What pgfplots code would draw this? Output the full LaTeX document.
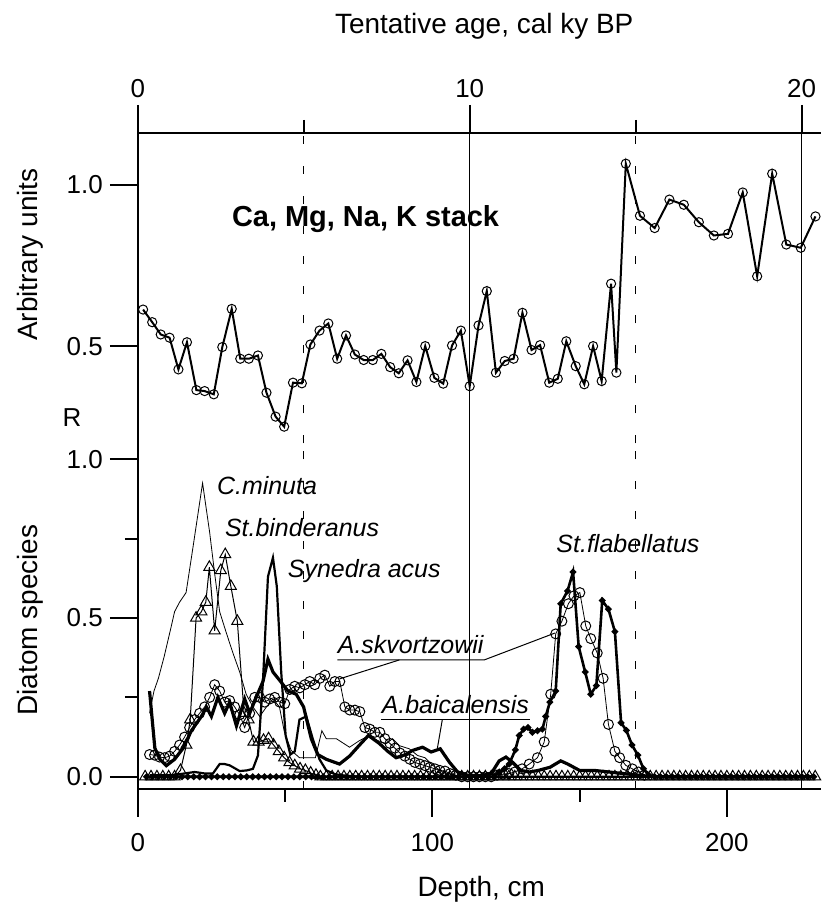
\documentclass[border=0pt]{standalone}
\usepackage{fontspec}
\setmainfont{Liberation Sans}
\usepackage{pgfplots}
\pgfplotsset{compat=1.18}
\begin{document}
\begin{tikzpicture}
\begin{scope}[x=0.5pt,y=-0.5pt]
\useasboundingbox (0,0) rectangle (822,909);
\coordinate (uSW) at (138,444);
\coordinate (lSW) at (138,790);
\end{scope}
\pgfplotsset{
  myaxis/.style={
    scale only axis, width=342pt,
    xmin=0, xmax=231.86, clip=false,
    tick align=outside,
    major tick length=14pt, minor tick length=6.5pt,
    axis line style={-, line width=0.8pt},
    major tick style={black, line width=1pt},
    minor tick style={black, line width=1pt},
    tick label style={font=\fontsize{13}{15}\selectfont},
    xticklabel style={/pgf/number format/assume math mode=true},
    yticklabel style={/pgf/number format/.cd, fixed, fixed zerofill, precision=1, assume math mode=true},
  },
  vsolid/.style={black, line width=0.5pt, forget plot},
  vdash/.style={black, line width=0.5pt, dash pattern=on 4pt off 11pt, forget plot},
  xtk/.style={black, line width=1pt, forget plot},
}
% ---------------- upper panel ----------------
\begin{axis}[myaxis, at={(uSW)}, anchor=south west, height=155.5pt,
  ymin=0.2006, ymax=1.1605,
  axis x line*=top, axis y line*=left,
  xtick={0,112.7,225.4}, xticklabels={0,10,20}, minor xtick={56.4,169.1},
  ytick={0.5,1.0}]
\addplot[vdash] coordinates {(56.4,0.2006) (56.4,1.1605)};
\addplot[vdash] coordinates {(169.1,0.2006) (169.1,1.1605)};
\addplot[vsolid] coordinates {(112.7,0.2006) (112.7,1.1605)};
\addplot[vsolid] coordinates {(225.4,0.2006) (225.4,1.1605)};
\addplot[xtk] coordinates {(0,1.1605) (0,1.2438)};
\addplot[xtk] coordinates {(112.7,1.1605) (112.7,1.2438)};
\addplot[xtk] coordinates {(225.4,1.1605) (225.4,1.2438)};
\addplot[xtk] coordinates {(56.4,1.1605) (56.4,1.2006)};
\addplot[xtk] coordinates {(169.1,1.1605) (169.1,1.2006)};
\addplot[black, line width=1pt, mark=o, mark size=2.3pt, mark options={line width=0.5pt, solid}] coordinates {
(1.8,0.614)(4.9,0.575)(7.8,0.537)(10.8,0.527)(13.8,0.429)(16.7,0.513)(19.9,0.365)(22.7,0.362)(25.8,0.352)(28.7,0.498)
(31.9,0.616)(34.8,0.462)(37.7,0.462)(40.8,0.472)(43.7,0.357)(46.8,0.283)(49.7,0.252)(52.7,0.388)(55.7,0.386)(58.6,0.506)
(61.7,0.549)(64.7,0.571)(67.7,0.462)(70.7,0.534)(73.7,0.475)(76.7,0.458)(79.8,0.458)(82.7,0.477)(85.7,0.436)(88.6,0.417)
(91.6,0.457)(94.6,0.390)(97.6,0.501)(100.7,0.403)(103.7,0.385)(106.7,0.503)(109.7,0.549)(112.7,0.377)(115.7,0.565)(118.5,0.671)
(121.6,0.419)(124.6,0.455)(127.6,0.462)(130.6,0.604)(133.7,0.489)(136.6,0.504)(139.7,0.388)(142.6,0.400)(145.5,0.516)(148.7,0.439)
(151.6,0.383)(154.6,0.501)(157.5,0.393)(160.7,0.694)(162.5,0.419)(165.7,1.065)(170.5,0.904)(175.5,0.866)(180.5,0.954)(185.4,0.938)
(190.5,0.884)(195.6,0.843)(200.4,0.848)(205.4,0.976)(210.3,0.717)(215.4,1.034)(220.2,0.815)(225.1,0.805)(230.1,0.902)};
\end{axis}
% ---------------- lower panel ----------------
\begin{axis}[myaxis, at={(lSW)}, anchor=south west, height=173pt,
  ymin=-0.0377, ymax=1.0503,
  axis x line*=bottom, axis y line*=left,
  xtick={0,100,200}, minor xtick={50,150},
  xticklabel shift=5pt,
  ytick={0,0.5,1}, minor ytick={0.25,0.75}]
\addplot[vdash] coordinates {(56.4,-0.0377) (56.4,1.0503)};
\addplot[vdash] coordinates {(169.1,-0.0377) (169.1,1.0503)};
\addplot[vsolid] coordinates {(112.7,-0.0377) (112.7,1.0503)};
\addplot[vsolid] coordinates {(225.4,-0.0377) (225.4,1.0503)};
\addplot[xtk] coordinates {(0,-0.0377) (0,-0.1258)};
\addplot[xtk] coordinates {(100,-0.0377) (100,-0.1258)};
\addplot[xtk] coordinates {(200,-0.0377) (200,-0.1258)};
\addplot[xtk] coordinates {(50,-0.0377) (50,-0.0786)};
\addplot[xtk] coordinates {(150,-0.0377) (150,-0.0786)};
% C. minuta
\addplot[black, line width=0.4pt] coordinates {
(4,0.20)(5.5,0.27)(7,0.31)(9,0.38)(11.4,0.475)(12.5,0.52)(14.2,0.55)(16.4,0.58)(18.7,0.72)(22,0.925)
(24.4,0.77)(26.1,0.64)(27.8,0.52)(30,0.455)(32.3,0.39)(34.6,0.33)(36.8,0.26)(39.1,0.22)(41.4,0.19)(43.7,0.22)
(45.9,0.245)(48.1,0.22)(49.8,0.14)(52.1,0.083)(54.9,0.06)(57.5,0.06)(60.3,0.06)(62.5,0.145)(64,0.12)(67.4,0.12)
(71.9,0.093)(75.3,0.114)(78.6,0.13)(81.5,0.114)(84.3,0.104)(86.5,0.12)(88.8,0.098)(92.2,0.088)(95,0.067)(97.5,0.06)
(100.1,0.036)(103.5,0.015)(107,0.005)(112,0)(130,0)(160,0)(200,0)(230,0)};
% St. binderanus
\addplot[black, line width=0.5pt, mark=triangle, mark size=3.2pt, mark options={line width=0.5pt}] coordinates {
(2.5,0)(4.5,0)(6.5,0)(8.5,0)(10.5,0)(12.5,0)(14.5,0.02)(16.5,0.10)(17.8,0.18)(19.8,0.50)
(21.6,0.52)(23.1,0.55)(24.3,0.66)(26.1,0.46)(28.2,0.65)(29.7,0.70)(31.6,0.60)(33.8,0.49)(36.1,0.20)(37.6,0.18)
(39.3,0.11)(41,0.11)(42.7,0.115)(44.4,0.12)(46.1,0.10)(47.9,0.08)(49.7,0.06)(51.5,0.045)(53.3,0.035)(55.1,0.025)
(56.9,0.02)(58.7,0.012)(60.5,0.005)(62,0)(64,0)(66,0)(68,0)(70,0)(72,0)(74,0)(76,0)(78,0)(80,0)(82,0)(84,0)(86,0)(88,0)
(90,0)(92,0)(94,0)(96,0)(98,0)(100,0)(102,0)(104,0)(106,0)(108,0)(110,0)(112,0)(114,0)(116,0)(118,0)(120,0)(122,0)
(124,0)(126,0)(128,0)(130,0)(132,0)(134,0)(136,0)(138,0)(140,0)(142,0)(144,0)(146,0)(148,0)(150,0)(152,0)(154,0)
(156,0)(158,0)(160,0)(162,0)(164,0)(166,0)(168,0)(170,0)(172,0)(174,0)(176,0)(178,0)(180,0)(182,0)(184,0)(186,0)
(188,0)(190,0)(192,0)(194,0)(196,0)(198,0)(200,0)(202,0)(204,0)(206,0)(208,0)(210,0)(212,0)(214,0)(216,0)(218,0)
(220,0)(222,0)(224,0)(226,0)(228,0)(230,0)};
% Synedra acus
\addplot[black, line width=1.1pt] coordinates {
(4,0.005)(8,0.005)(12,0.005)(15.5,0.01)(19.3,0.015)(23,0.01)(25.5,0.01)(27.8,0.04)(29.5,0.04)(31.2,0.036)
(34.6,0.018)(37,0.02)(39.1,0.025)(40.8,0.067)(42.5,0.30)(44.2,0.63)(45.9,0.69)(47.2,0.60)(48.7,0.33)(50.2,0.13)
(51.8,0.07)(53.3,0.08)(54.9,0.18)(57.2,0.19)(59.4,0.12)(61.7,0.055)(64,0.02)(67,0.008)(70,0.004)(75,0)(120,0)(230,0)};
% A. skvortzowii
\addplot[black, line width=0.4pt, mark=o, mark size=2.5pt, mark options={line width=0.5pt}] coordinates {
(4,0.07)(5.7,0.068)(7.4,0.062)(9.1,0.06)(10.8,0.065)(12.5,0.08)(14.2,0.10)(15.9,0.125)(17.6,0.155)(19.3,0.18)
(21,0.20)(22.7,0.22)(24.4,0.25)(26.1,0.29)(27.8,0.27)(29.5,0.235)(31.2,0.24)(32.9,0.22)(34.6,0.195)(36.3,0.155)
(38,0.20)(39.7,0.25)(41.4,0.25)(43.1,0.235)(44.8,0.245)(46.5,0.25)(48.2,0.235)(49.9,0.23)(51.6,0.275)(53.3,0.285)
(55,0.28)(56.7,0.29)(58.4,0.30)(60.1,0.29)(61.8,0.31)(63.5,0.32)(65.2,0.285)(66.9,0.30)(68.6,0.30)(70.3,0.22)
(72,0.21)(73.7,0.21)(75.4,0.205)(77.1,0.155)(78.8,0.15)(80.5,0.14)(82.2,0.14)(83.9,0.12)(85.6,0.105)(87.3,0.09)
(89,0.075)(90.7,0.065)(92.4,0.055)(94.1,0.045)(95.8,0.04)(97.5,0.035)(99.2,0.03)(100.9,0.025)(102.6,0.02)(104.3,0.018)
(106,0.01)(108,0.005)(110,0)(112,0)(114,0)(116,0)(118,0)(120,0)(122,0.005)(124,0.008)(126,0.01)(128,0.015)
(130.5,0.025)(132.9,0.04)(135.7,0.06)(138,0.11)(140.2,0.26)(141.9,0.45)(144,0.49)(146.2,0.545)(148.1,0.57)(150.1,0.58)
(152.1,0.475)(153.8,0.435)(156,0.39)(158,0.31)(159.8,0.165)(162,0.08)(163.6,0.06)(165.7,0.036)(167.9,0.025)(170,0.015)
(172,0.005)};
% A. baicalensis
\addplot[black, line width=1.6pt] coordinates {
(4,0.27)(5.8,0.09)(7.5,0.055)(9.7,0.035)(12.5,0.055)(15.4,0.09)(18.2,0.145)(21.6,0.19)(23.3,0.22)(25,0.19)
(27.2,0.25)(29.5,0.20)(31.2,0.235)(33.5,0.16)(36.3,0.245)(38,0.20)(40.2,0.25)(42.5,0.30)(44.2,0.37)(45.9,0.33)
(48.5,0.30)(51,0.27)(53.8,0.26)(56.3,0.22)(58.9,0.12)(61.1,0.07)(64,0.055)(68.5,0.04)(71.9,0.065)(75.3,0.10)
(78.3,0.13)(82,0.105)(84.9,0.08)(87.7,0.06)(91,0.07)(93.3,0.083)(96.7,0.093)(99.6,0.078)(102.7,0.088)(105.8,0.046)
(108.6,0.015)(112,0.005)(116,0.003)(120,0.01)(122.7,0.05)(125,0.062)(127.2,0.046)(130,0.02)(133,0.015)(136,0.02)
(140,0.03)(143.6,0.05)(146,0.04)(150,0.02)(155,0.02)(160,0.015)(165,0.01)(170,0.005)(175,0)(200,0)(230,0)};
% St. flabellatus
\addplot[black, line width=1.3pt, mark=*, mark size=0.9pt] coordinates {
(3,0)(5,0)(7,0)(9,0)(11,0)(13,0)(15,0)(17,0)(19,0)(21,0)(23,0)(25,0)(27,0)(29,0)(31,0)(33,0)(35,0)(37,0)(39,0)(41,0)
(43,0)(45,0)(47,0)(49,0)(51,0)(53,0)(55,0)(57,0)(59,0)(61,0)(63,0)(65,0)(67,0)(69,0)(71,0)(73,0)(75,0)(77,0)(79,0)(81,0)
(83,0)(85,0)(87,0)(89,0)(91,0)(93,0)(95,0)(97,0)(99,0)(101,0)(103,0)(105,0)(107,0)(109,0)(111,0)(113,0)(115,0)(117,0)(119,0)(121,0)
(122.7,0.015)(124.5,0.025)(126.1,0.04)(128.2,0.085)(129.5,0.13)(131,0.15)(132.5,0.155)(134,0.14)(135.7,0.145)(137.4,0.15)
(138.5,0.19)(139.9,0.235)(141.9,0.27)(143.6,0.545)(145.9,0.585)(147.8,0.645)(149.7,0.41)(151.9,0.33)(153.8,0.26)(155.7,0.287)
(157.7,0.555)(159.8,0.528)(162,0.457)(164.1,0.17)(165.9,0.146)(167.8,0.10)(169.8,0.068)(171.7,0.025)(173.5,0.005)
(175.5,0)(177.5,0)(179.5,0)(181.5,0)(183.5,0)(185.5,0)(187.5,0)(189.5,0)(191.5,0)(193.5,0)(195.5,0)(197.5,0)(199.5,0)(201.5,0)
(203.5,0)(205.5,0)(207.5,0)(209.5,0)(211.5,0)(213.5,0)(215.5,0)(217.5,0)(219.5,0)(221.5,0)(223.5,0)(225.5,0)(227.5,0)(229.5,0)};
\end{axis}
% ---------------- titles and annotations ----------------
\begin{scope}[x=0.5pt,y=-0.5pt]
\node[anchor=base, font=\fontsize{14}{16}\selectfont] at (485,34) {Tentative age, cal ky BP};
\node[anchor=base, font=\fontsize{14}{16}\selectfont] at (482,898) {Depth, cm};
\node[rotate=90, font=\fontsize{14}{16}\selectfont] at (30,255) {Arbitrary units};
\node[rotate=90, font=\fontsize{14}{16}\selectfont] at (30,621) {Diatom species};
\node[font=\fontsize{13}{15}\selectfont] at (72,418) {R};
\node[anchor=base west, inner sep=0pt, font=\fontsize{14.5}{17}\selectfont\bfseries] at (232,227) {Ca, Mg, Na, K stack};
\begin{scope}[every node/.style={anchor=base west, inner sep=0pt, font=\fontsize{12.5}{15}\selectfont\itshape}]
\node at (217,495) {C.minuta};
\node at (225,537) {St.binderanus};
\node at (288,578) {Synedra acus};
\node at (338,655) {A.skvortzowii};
\node at (382,715) {A.baicalensis};
\node at (557,553) {St.flabellatus};
\end{scope}
\draw[line width=0.5pt] (338,661) -- (485,661) -- (556,634);
\draw[line width=0.5pt] (340,680) -- (400,661);
\draw[line width=0.5pt] (382,721) -- (531,721);
\draw[line width=0.5pt] (443,721) -- (438,750);
\end{scope}
\end{tikzpicture}
\end{document}
